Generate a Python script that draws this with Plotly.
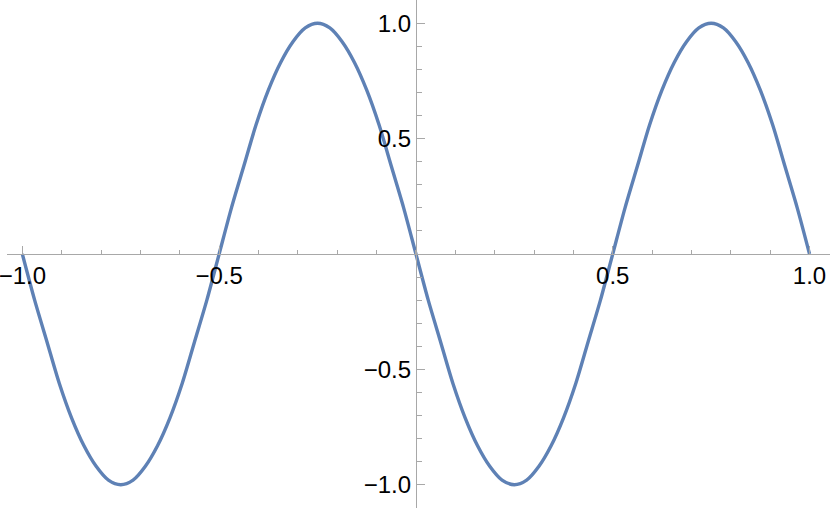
import plotly.graph_objects as go

# curve, one point every 1/32 on x
x_vals = [-1.0, -0.96875, -0.9375, -0.90625, -0.875, -0.84375, -0.8125, -0.78125,
          -0.75, -0.71875, -0.6875, -0.65625, -0.625, -0.59375, -0.5625, -0.53125,
          -0.5, -0.46875, -0.4375, -0.40625, -0.375, -0.34375, -0.3125, -0.28125,
          -0.25, -0.21875, -0.1875, -0.15625, -0.125, -0.09375, -0.0625, -0.03125,
          0.0, 0.03125, 0.0625, 0.09375, 0.125, 0.15625, 0.1875, 0.21875,
          0.25, 0.28125, 0.3125, 0.34375, 0.375, 0.40625, 0.4375, 0.46875,
          0.5, 0.53125, 0.5625, 0.59375, 0.625, 0.65625, 0.6875, 0.71875,
          0.75, 0.78125, 0.8125, 0.84375, 0.875, 0.90625, 0.9375, 0.96875, 1.0]
y_vals = [0.0, -0.20, -0.38, -0.56, -0.71, -0.83, -0.92, -0.98,
          -1.0, -0.98, -0.92, -0.83, -0.71, -0.56, -0.38, -0.20,
          0.0, 0.20, 0.38, 0.56, 0.71, 0.83, 0.92, 0.98,
          1.0, 0.98, 0.92, 0.83, 0.71, 0.56, 0.38, 0.20,
          0.0, -0.20, -0.38, -0.56, -0.71, -0.83, -0.92, -0.98,
          -1.0, -0.98, -0.92, -0.83, -0.71, -0.56, -0.38, -0.20,
          0.0, 0.20, 0.38, 0.56, 0.71, 0.83, 0.92, 0.98,
          1.0, 0.98, 0.92, 0.83, 0.71, 0.56, 0.38, 0.20, 0.0]

x_tickvals = [-1.0, -0.5, 0.5, 1.0]
x_ticktext = ['\u22121.0', '\u22120.5', '0.5', '1.0']
y_tickvals = [-1.0, -0.5, 0.5, 1.0]
y_ticktext = ['\u22121.0', '\u22120.5', '0.5', '1.0']

x_range = [-1.039, 1.052]
y_range = [-1.101, 1.101]

axis_color = '#a8a8a8'
font = dict(family='Liberation Sans, Arial, sans-serif', size=24, color='black')

fig = go.Figure()

fig.add_trace(go.Scatter(
    x=x_vals,
    y=y_vals,
    mode='lines',
    line=dict(color='#5e81b5', width=3.4, shape='spline', smoothing=0.8),
    hoverinfo='skip',
    showlegend=False
))

# axes cross at the origin, like Mathematica's default Plot
fig.update_layout(
    width=830,
    height=512,
    margin=dict(l=7, r=0, t=0, b=4, autoexpand=False),
    plot_bgcolor='white',
    paper_bgcolor='white',
    showlegend=False,
    xaxis=dict(
        range=x_range,
        anchor='free',
        position=(0 - y_range[0]) / (y_range[1] - y_range[0]),
        automargin=False,
        showgrid=False,
        zeroline=False,
        showline=True,
        linecolor=axis_color,
        linewidth=1,
        tickmode='array',
        tickvals=x_tickvals,
        ticktext=x_ticktext,
        ticks='inside',
        ticklen=8,
        tickcolor=axis_color,
        tickfont=font,
        ticklabeloverflow='allow',
        minor=dict(tickmode='linear', tick0=0, dtick=0.1, ticks='inside',
                   ticklen=4.5, tickcolor=axis_color),
    ),
    yaxis=dict(
        range=y_range,
        anchor='free',
        position=(0 - x_range[0]) / (x_range[1] - x_range[0]),
        automargin=False,
        showgrid=False,
        zeroline=False,
        showline=True,
        linecolor=axis_color,
        linewidth=1,
        tickmode='array',
        tickvals=y_tickvals,
        ticktext=y_ticktext,
        ticks='inside',
        ticklen=8,
        tickcolor=axis_color,
        tickfont=font,
        ticklabeloverflow='allow',
        minor=dict(tickmode='linear', tick0=0, dtick=0.1, ticks='inside',
                   ticklen=5, tickcolor=axis_color),
    ),
)

# drop the browser's default 8px body margin so the figure fills the window
fig.write_html("out.html", config={'displayModeBar': False},
               post_script="document.body.style.margin = '0';")
